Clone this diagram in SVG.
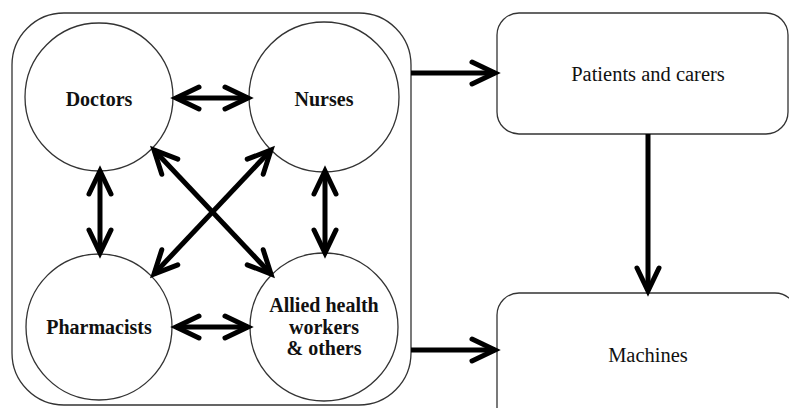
<svg xmlns="http://www.w3.org/2000/svg" width="789" height="408" viewBox="0 0 789 408">
  <defs>
    <marker id="head" markerUnits="userSpaceOnUse" markerWidth="40" markerHeight="40" viewBox="-32 -16 40 32" refX="0" refY="0" orient="auto-start-reverse" overflow="visible">
      <path d="M-23,-11 L0,0 L-23,11" fill="none" stroke="#000" stroke-width="5" stroke-linecap="round" stroke-linejoin="miter"/>
    </marker>
    <style>
      .frame { fill: #fff; stroke: #333; stroke-width: 1.3; }
      .link { fill: none; stroke: #000; stroke-width: 5; marker-end: url(#head); }
      .both { marker-start: url(#head); }
      .bold { font-family: "Liberation Serif", "Times New Roman", serif; font-weight: bold; font-size: 20px; fill: #111; text-anchor: middle; }
      .plain { font-family: "Liberation Serif", "Times New Roman", serif; font-size: 20.5px; fill: #111; text-anchor: middle; }
    </style>
  </defs>
  <rect width="789" height="408" fill="#fff"/>

  <!-- team container -->
  <g id="team">
    <rect class="frame" x="12" y="13" width="399" height="392" rx="52" ry="52"/>
  </g>

  <g id="doctors">
    <circle class="frame" cx="99" cy="97" r="74"/>
    <text class="bold" x="99" y="106">Doctors</text>
  </g>
  <g id="nurses">
    <circle class="frame" cx="324" cy="97" r="75"/>
    <text class="bold" x="324" y="106">Nurses</text>
  </g>
  <g id="pharmacists">
    <circle class="frame" cx="99" cy="327" r="73"/>
    <text class="bold" x="99" y="334">Pharmacists</text>
  </g>
  <g id="allied">
    <circle class="frame" cx="324" cy="327" r="74"/>
    <text class="bold" x="324" y="312">Allied health</text>
    <text class="bold" x="324" y="333.5">workers</text>
    <text class="bold" x="324" y="355">&amp; others</text>
  </g>

  <g id="patients">
    <rect class="frame" x="497" y="13" width="291" height="121" rx="22" ry="22"/>
    <text class="plain" x="648" y="81">Patients and carers</text>
  </g>
  <g id="machines">
    <rect class="frame" x="497" y="293" width="300" height="140" rx="22" ry="22"/>
    <text class="plain" x="648" y="362">Machines</text>
  </g>

  <!-- connectors -->
  <g id="connectors">
    <line class="link both" x1="176" y1="98" x2="248" y2="98"/>
    <line class="link both" x1="176" y1="327" x2="248" y2="327"/>
    <line class="link both" x1="100" y1="171" x2="100" y2="253"/>
    <line class="link both" x1="325" y1="171" x2="325" y2="253"/>
    <line class="link both" x1="154" y1="150" x2="271" y2="274"/>
    <line class="link both" x1="271" y1="150" x2="154" y2="274"/>
    <line class="link" x1="411" y1="73" x2="495" y2="73"/>
    <line class="link" x1="411" y1="350" x2="495" y2="350"/>
    <line class="link" x1="648" y1="134" x2="648" y2="291"/>
  </g>
</svg>
